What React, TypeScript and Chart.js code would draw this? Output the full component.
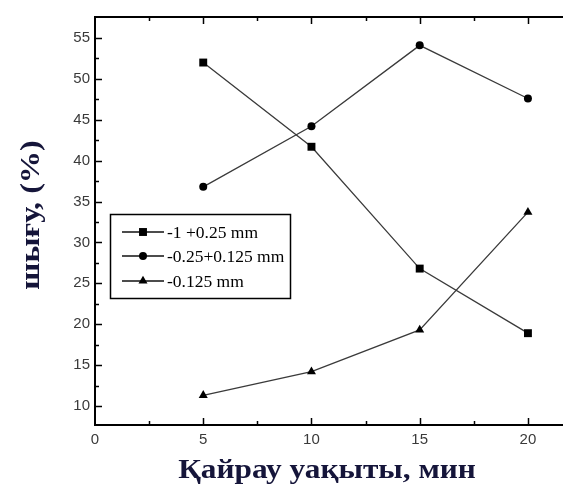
import React, { useEffect, useRef } from "react";
import { Chart, registerables } from "chart.js";

Chart.register(...registerables);

const xValues = [5, 10, 15, 20];
const coarseFraction = [52.0, 41.7, 26.8, 18.9];
const mediumFraction = [36.8, 44.2, 54.1, 47.6];
const fineFraction = [11.3, 14.2, 19.3, 33.7];
const seriesLabels = ["-1 +0.25 mm", "-0.25+0.125 mm", "-0.125 mm"];
const seriesMarkers = ["rect", "circle", "triangle"];
const xTickValues = [0, 5, 10, 15, 20];
const yTickValues = [10, 15, 20, 25, 30, 35, 40, 45, 50, 55];
const xMinorTicks = [2.5, 7.5, 12.5, 17.5];
const xMajorTicks = [5, 10, 15, 20];
const yMinorTicks = [12.5, 17.5, 22.5, 27.5, 32.5, 37.5, 42.5, 47.5, 52.5];
const yMajorTicks = [10, 15, 20, 25, 30, 35, 40, 45, 50, 55];
const xTitle = "Қайрау уақыты, мин";
const yTitle = "шығу, (%)";

const toPoints = (vals: number[]) => vals.map((v, i) => ({ x: xValues[i], y: v }));

function drawMarker(ctx: CanvasRenderingContext2D, style: string, r: number, x: number, y: number) {
  ctx.beginPath();
  if (style === "rect") {
    const s = Math.SQRT1_2 * r;
    ctx.rect(x - s, y - s, 2 * s, 2 * s);
  } else if (style === "circle") {
    ctx.arc(x, y, r, 0, Math.PI * 2);
  } else {
    ctx.moveTo(x, y - r);
    ctx.lineTo(x + Math.sin((2 * Math.PI) / 3) * r, y - Math.cos((2 * Math.PI) / 3) * r);
    ctx.lineTo(x + Math.sin((4 * Math.PI) / 3) * r, y - Math.cos((4 * Math.PI) / 3) * r);
    ctx.closePath();
  }
  ctx.fill();
}

const frameTicksPlugin = {
  id: "frameTicks",
  afterDraw(chart: any) {
    const { ctx, chartArea } = chart;
    const xs = chart.scales.x;
    const ys = chart.scales.y;
    ctx.save();
    ctx.strokeStyle = "#000";
    ctx.lineWidth = 2;
    ctx.beginPath();
    ctx.moveTo(chartArea.left - 1, chartArea.top);
    ctx.lineTo(chartArea.right, chartArea.top);
    ctx.stroke();
    ctx.lineWidth = 1.5;
    const tick = (x1: number, y1: number, x2: number, y2: number) => {
      ctx.beginPath();
      ctx.moveTo(x1, y1);
      ctx.lineTo(x2, y2);
      ctx.stroke();
    };
    xMajorTicks.forEach((v) => {
      const px = Math.round(xs.getPixelForValue(v)) + 0.5;
      tick(px, chartArea.bottom, px, chartArea.bottom - 7);
      tick(px, chartArea.top, px, chartArea.top + 7);
    });
    xMinorTicks.forEach((v) => {
      const px = Math.round(xs.getPixelForValue(v)) + 0.5;
      tick(px, chartArea.bottom, px, chartArea.bottom - 4);
      tick(px, chartArea.top, px, chartArea.top + 4);
    });
    yMajorTicks.forEach((v) => {
      const py = Math.round(ys.getPixelForValue(v)) + 0.5;
      tick(chartArea.left, py, chartArea.left + 7, py);
    });
    yMinorTicks.forEach((v) => {
      const py = Math.round(ys.getPixelForValue(v)) + 0.5;
      tick(chartArea.left, py, chartArea.left + 4, py);
    });
    ctx.restore();
  },
};

const titlesPlugin = {
  id: "stretchedTitles",
  afterDraw(chart: any) {
    const { ctx, chartArea } = chart;
    ctx.save();
    ctx.fillStyle = "#15153a";
    ctx.textAlign = "center";
    ctx.textBaseline = "alphabetic";
    ctx.font = "bold 27px 'Liberation Serif', serif";
    ctx.save();
    ctx.translate((chartArea.left + chartArea.right) / 2 - 2, 478);
    ctx.scale(1.16, 1);
    ctx.fillText(xTitle, 0, 0);
    ctx.restore();
    ctx.save();
    ctx.font = "bold 28px 'Liberation Serif', serif";
    ctx.translate(39, 215);
    ctx.rotate(-Math.PI / 2);
    ctx.scale(1.15, 1);
    ctx.fillText(yTitle, 0, 0);
    ctx.restore();
    ctx.restore();
  },
};

const boxLegendPlugin = {
  id: "boxLegend",
  afterDraw(chart: any) {
    const { ctx } = chart;
    const box = { x: 110.5, y: 214.5, w: 180, h: 84 };
    const rows = [232, 256, 281];
    ctx.save();
    ctx.fillStyle = "#fff";
    ctx.fillRect(box.x, box.y, box.w, box.h);
    ctx.strokeStyle = "#000";
    ctx.lineWidth = 1.5;
    ctx.strokeRect(box.x, box.y, box.w, box.h);
    chart.data.datasets.forEach((ds: any, i: number) => {
      const y = rows[i];
      ctx.strokeStyle = "#111";
      ctx.lineWidth = 1.3;
      ctx.beginPath();
      ctx.moveTo(122, y);
      ctx.lineTo(164, y);
      ctx.stroke();
      ctx.fillStyle = "#000";
      drawMarker(ctx, ds.pointStyle, ds.pointRadius, 143, y);
      ctx.fillStyle = "#000";
      ctx.font = "17.5px 'Liberation Serif', serif";
      ctx.textBaseline = "middle";
      ctx.textAlign = "left";
      ctx.fillText(ds.label, 167, y + 1);
    });
    ctx.restore();
  },
};

export default function App() {
  const ref = useRef<HTMLCanvasElement>(null);
  useEffect(() => {
    if (!ref.current) return;
    const series = [coarseFraction, mediumFraction, fineFraction];
    const radii = [5.6, 4, 5.2];
    const chart = new Chart(ref.current, {
      type: "line",
      data: {
        datasets: series.map((vals, i) => ({
          label: seriesLabels[i],
          data: toPoints(vals),
          borderColor: "#3a3a3a",
          borderWidth: 1.3,
          backgroundColor: "#000",
          pointBackgroundColor: "#000",
          pointBorderColor: "#000",
          pointBorderWidth: 0,
          pointStyle: seriesMarkers[i] as any,
          pointRadius: radii[i],
          tension: 0,
        })),
      },
      options: {
        responsive: false,
        animation: false,
        devicePixelRatio: 1,
        layout: { autoPadding: false, padding: { top: 17, left: 0, right: 0, bottom: 0 } },
        plugins: { legend: { display: false }, tooltip: { enabled: false } },
        scales: {
          x: {
            type: "linear",
            min: 0,
            max: 21.62,
            grid: { display: false, drawTicks: false, tickLength: 0 },
            border: { display: true, color: "#000", width: 2 },
            afterBuildTicks: (scale: any) => {
              scale.ticks = xTickValues.map((v) => ({ value: v }));
            },
            afterFit: (scale: any) => {
              scale.height = 64;
            },
            ticks: {
              padding: 6,
              color: "#3a3a3a",
              font: { family: "'Liberation Sans', Arial, sans-serif", size: 15 },
              callback: (v: any) => String(v),
            },
          },
          y: {
            type: "linear",
            min: 7.67,
            max: 57.57,
            grid: { display: false, drawTicks: false, tickLength: 0 },
            border: { display: true, color: "#000", width: 2 },
            afterBuildTicks: (scale: any) => {
              scale.ticks = yTickValues.map((v) => ({ value: v }));
            },
            afterFit: (scale: any) => {
              scale.width = 95;
            },
            ticks: {
              padding: 5,
              color: "#3a3a3a",
              font: { family: "'Liberation Sans', Arial, sans-serif", size: 15 },
              callback: (v: any) => String(v),
            },
          },
        },
      },
      plugins: [frameTicksPlugin, boxLegendPlugin, titlesPlugin],
    });
    return () => chart.destroy();
  }, []);
  return (
    <div style={{ position: "absolute", left: 0, top: 0, width: 563, height: 489, background: "#fff" }}>
      <canvas ref={ref} width={563} height={489} style={{ display: "block" }} />
    </div>
  );
}
